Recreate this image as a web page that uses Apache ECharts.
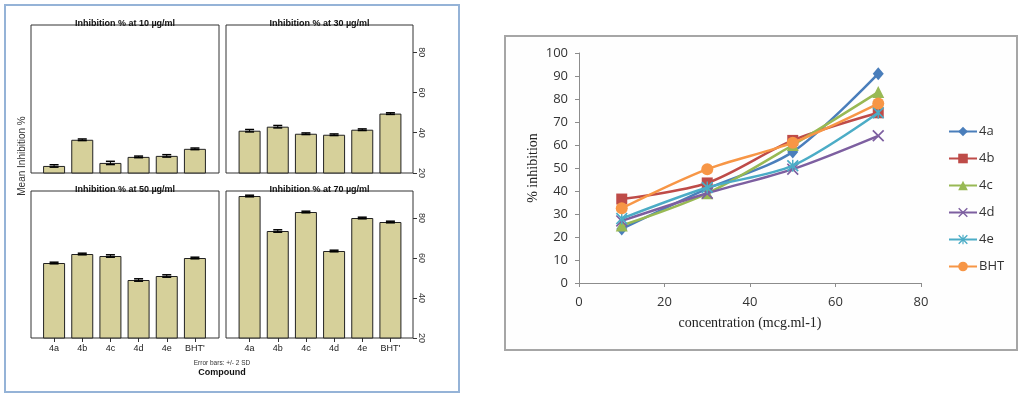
<!DOCTYPE html>
<html>
<head>
<meta charset="utf-8">
<script src="https://cdn.jsdelivr.net/npm/echarts@6/dist/echarts.min.js"></script>
<style>html,body{margin:0;padding:0;background:#fff}#c{width:1026px;height:398px}</style>
</head>
<body>
<div id="c"></div>
<script>
// ---- Data ----
const categories = ['4a', '4b', '4c', '4d', '4e', "BHT'"];
const inh10 = [23.5, 36.5, 25, 28, 28.5, 32];
const inh30 = [41, 43, 39.5, 39, 41.5, 49.5];
const inh50 = [57.5, 62, 61, 49, 51, 60];
const inh70 = [91, 73.5, 83, 63.5, 80, 78];
const sd10 = [0.3, 0.2, 0.4, 0.2, 0.3, 0.2];
const sd30 = [0.3, 0.3, 0.2, 0.2, 0.2, 0.2];
const sd50 = [0.2, 0.2, 0.3, 0.3, 0.3, 0.2];
const sd70 = [0.2, 0.3, 0.2, 0.2, 0.2, 0.2];
const panelTitles = ['Inhibition % at 10 µg/ml', 'Inhibition % at 30 µg/ml', 'Inhibition % at 50 µg/ml', 'Inhibition % at 70 µg/ml'];
const barTicks = [20, 40, 60, 80];

const concentrations = [10, 30, 50, 70];
const lineNames = ['4a', '4b', '4c', '4d', '4e', 'BHT'];
const s4a = [23.5, 41, 57, 91];
const s4b = [36.5, 43.5, 62, 74];
const s4c = [25, 39, 60, 83];
const s4d = [27, 39, 49.5, 64];
const s4e = [28, 41.5, 51, 74];
const sBHT = [32.5, 49.5, 61, 78];

// ---- Layout ----
const frames = [
  {left: 31, top: 25, width: 188, height: 148},
  {left: 226, top: 25, width: 187, height: 148},
  {left: 31, top: 191, width: 188, height: 147},
  {left: 226, top: 191, width: 187, height: 147}
];
const inner = [
  {left: 40, top: 25, width: 169, height: 148},
  {left: 235.5, top: 25, width: 169, height: 148},
  {left: 40, top: 191, width: 169, height: 147},
  {left: 235.5, top: 191, width: 169, height: 147}
];
const panelVals = [inh10, inh30, inh50, inh70];
const panelSd = [sd10, sd30, sd50, sd70];

const grids = [], xAxes = [], yAxes = [], series = [];
// frame grids 0..3
frames.forEach((f, i) => {
  grids.push(Object.assign({show: true, borderColor: '#333', borderWidth: 1, backgroundColor: '#fff'}, f));
  xAxes.push({gridIndex: i, type: 'value', show: false});
  yAxes.push({gridIndex: i, type: 'value', show: false});
});
// inner grids 4..7
inner.forEach((g, i) => {
  const gi = 4 + i;
  grids.push(Object.assign({}, g));
  const bottomRow = i >= 2;
  const rightCol = i % 2 === 1;
  xAxes.push({
    gridIndex: gi, type: 'category', data: categories,
    axisLine: {show: false},
    axisTick: {show: bottomRow, alignWithLabel: true, length: 4, lineStyle: {color: '#333'}},
    axisLabel: {show: bottomRow, fontSize: 9, color: '#222', margin: 6, fontFamily: 'Liberation Sans', interval: 0}
  });
  yAxes.push({
    gridIndex: gi, type: 'value', min: 20, max: 93.5,
    position: 'right', offset: rightCol ? 8.5 : 0,
    show: rightCol,
    splitLine: {show: false},
    axisLine: {show: false},
    axisTick: {show: rightCol, length: 4, customValues: barTicks, lineStyle: {color: '#333'}},
    axisLabel: {show: rightCol, customValues: barTicks, rotate: -90, fontSize: 9, color: '#333', margin: 4, fontFamily: 'Liberation Sans'}
  });
  series.push({
    type: 'bar', xAxisIndex: gi, yAxisIndex: gi,
    data: panelVals[i], barWidth: 22,
    itemStyle: {color: '#D6D09A', borderColor: '#222', borderWidth: 1},
    silent: true, z: 2
  });
  series.push({
    type: 'custom', xAxisIndex: gi, yAxisIndex: gi, z: 4, silent: true,
    data: panelVals[i].map((v, k) => [k, v, panelSd[i][k]]),
    renderItem: function (params, api) {
      const hi = api.coord([api.value(0), api.value(1) + 2 * api.value(2)]);
      const lo = api.coord([api.value(0), api.value(1) - 2 * api.value(2)]);
      const st = {stroke: '#000', lineWidth: 1.5};
      return {type: 'group', children: [
        {type: 'line', shape: {x1: hi[0], y1: hi[1], x2: lo[0], y2: lo[1]}, style: {stroke: '#000', lineWidth: 1}},
        {type: 'line', shape: {x1: hi[0] - 4.5, y1: hi[1], x2: hi[0] + 4.5, y2: hi[1]}, style: st},
        {type: 'line', shape: {x1: lo[0] - 4.5, y1: lo[1], x2: lo[0] + 4.5, y2: lo[1]}, style: st}
      ]};
    }
  });
});

// line chart grid 8
grids.push({left: 579, top: 53, width: 342, height: 230});
xAxes.push({
  gridIndex: 8, type: 'value', min: 0, max: 80, interval: 20,
  name: 'concentration (mcg.ml-1)', nameLocation: 'middle', nameGap: 33,
  nameTextStyle: {fontFamily: 'Liberation Serif', fontSize: 14, color: '#222'},
  axisLine: {lineStyle: {color: '#8c8c8c', width: 1}},
  axisTick: {show: true, length: 4, lineStyle: {color: '#8c8c8c'}},
  axisLabel: {fontSize: 13, color: '#333', margin: 13, fontFamily: 'Open Sans'},
  splitLine: {show: false}
});
yAxes.push({
  gridIndex: 8, type: 'value', min: 0, max: 100, interval: 10,
  name: '% inhibition', nameLocation: 'middle', nameGap: 39,
  nameTextStyle: {fontFamily: 'Liberation Serif', fontSize: 14, color: '#222'},
  axisLine: {show: true, lineStyle: {color: '#8c8c8c', width: 1}},
  axisTick: {show: true, length: 4, lineStyle: {color: '#8c8c8c'}},
  axisLabel: {fontSize: 13, color: '#333', margin: 11, fontFamily: 'Open Sans'},
  splitLine: {show: false}
});

const crossPath = 'path://M0,1L1,0L5,4L9,0L10,1L6,5L10,9L9,10L5,6L1,10L0,9L4,5Z';
const starPath = 'path://M0,1L1,0L5,4L9,0L10,1L6,5L10,9L9,10L5,6L1,10L0,9L4,5Z M4.4,0L5.6,0L5.6,10L4.4,10Z';
const lineData = [s4a, s4b, s4c, s4d, s4e, sBHT];
const lineColors = ['#4A7EBB', '#BE4B48', '#98B954', '#7D5FA0', '#4BACC6', '#F79646'];
const lineSymbols = ['diamond', 'rect', 'triangle', crossPath, starPath, 'circle'];
const lineSizes = [[11, 13], 11, 12, 12, 12, 12];
lineNames.forEach((n, i) => {
  series.push({
    name: n, type: 'line', xAxisIndex: 8, yAxisIndex: 8,
    data: concentrations.map((c, k) => [c, lineData[i][k]]),
    smooth: 0.3, symbol: lineSymbols[i], symbolSize: lineSizes[i], showSymbol: true,
    lineStyle: {color: lineColors[i], width: 2.5},
    itemStyle: {color: lineColors[i]},
    silent: true, z: 3 + i
  });
});

const option = {
  animation: false,
  backgroundColor: '#fff',
  grid: grids, xAxis: xAxes, yAxis: yAxes, series: series,
  legend: {
    orient: 'vertical', left: 943, top: 120,
    itemWidth: 28, itemHeight: 12, itemGap: 14,
    data: lineNames,
    textStyle: {fontSize: 13, color: '#333', fontFamily: 'Open Sans', padding: [0, 0, 0, -3]}
  },
  graphic: [
    {type: 'rect', z: -10, shape: {x: 5, y: 5, width: 454, height: 387}, style: {fill: '#fff', stroke: '#95B3D7', lineWidth: 2}},
    {type: 'rect', z: -10, shape: {x: 505, y: 36, width: 512, height: 314}, style: {fill: '#fefefe', stroke: '#A6A6A6', lineWidth: 2}},
    {type: 'text', x: 125, y: 28.5, z: 10, style: {text: panelTitles[0], align: 'center', verticalAlign: 'bottom', font: 'bold 9px "Liberation Sans"', fill: '#111'}},
    {type: 'text', x: 319.5, y: 28.5, z: 10, style: {text: panelTitles[1], align: 'center', verticalAlign: 'bottom', font: 'bold 9px "Liberation Sans"', fill: '#111'}},
    {type: 'text', x: 125, y: 194.5, z: 10, style: {text: panelTitles[2], align: 'center', verticalAlign: 'bottom', font: 'bold 9px "Liberation Sans"', fill: '#111'}},
    {type: 'text', x: 319.5, y: 194.5, z: 10, style: {text: panelTitles[3], align: 'center', verticalAlign: 'bottom', font: 'bold 9px "Liberation Sans"', fill: '#111'}},
    {type: 'text', x: 22, y: 156, rotation: Math.PI / 2, z: 10, style: {text: 'Mean Inhibition %', align: 'center', verticalAlign: 'middle', font: '10px "Liberation Sans"', fill: '#333'}},
    {type: 'text', x: 222, y: 363, z: 10, style: {text: 'Error bars: +/- 2 SD', align: 'center', verticalAlign: 'middle', font: '6.5px "Liberation Sans"', fill: '#333'}},
    {type: 'text', x: 222, y: 373, z: 10, style: {text: 'Compound', align: 'center', verticalAlign: 'middle', font: 'bold 9px "Liberation Sans"', fill: '#111'}}
  ]
};
const chart = echarts.init(document.getElementById('c'), null, {renderer: 'canvas'});
chart.setOption(option);
</script>
</body>
</html>
